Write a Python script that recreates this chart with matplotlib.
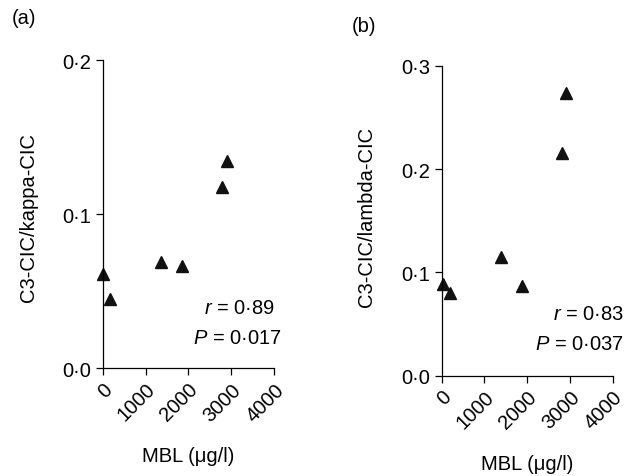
import matplotlib
matplotlib.use("Agg")
import matplotlib.pyplot as plt

plt.rcParams['font.family'] = ['Liberation Sans', 'DejaVu Sans']
plt.rcParams['mathtext.fontset'] = 'custom'
plt.rcParams['mathtext.it'] = 'Liberation Sans:italic'
plt.rcParams['mathtext.rm'] = 'Liberation Sans'

# Panel (a)
mbl_a = [15, 170, 1360, 1845, 2795, 2900]
ratio_kappa = [0.061, 0.045, 0.069, 0.0665, 0.1175, 0.1345]
# Panel (b)
mbl_b = [20, 195, 1385, 1885, 2820, 2905]
ratio_lambda = [0.0885, 0.0805, 0.1145, 0.087, 0.216, 0.274]

xticks = [0, 1000, 2000, 3000, 4000]
xtick_labels = ['0', '1000', '2000', '3000', '4000']
yticks_a = [0.0, 0.1, 0.2]
yticks_b = [0.0, 0.1, 0.2, 0.3]

FS = 14.5

def fmt(v):
    return f"{v:.1f}".replace('.', '\u00b7')

W, H = 635, 477
fig = plt.figure(figsize=(W / 100, H / 100), dpi=100)

def px_ax(l, r, b, t):
    return fig.add_axes([l / W, 1 - b / H, (r - l) / W, (b - t) / H])

def style(ax, yticks, ymax):
    ax.set_xlim(0, 4000)
    ax.set_ylim(0, ymax)
    for s in ['top', 'right']:
        ax.spines[s].set_visible(False)
    for s in ['left', 'bottom']:
        ax.spines[s].set_linewidth(0.9)
    ax.set_xticks(xticks)
    ax.set_xticklabels(xtick_labels, rotation=45, ha='right', va='top',
                       rotation_mode='anchor', fontsize=FS)
    ax.set_yticks(yticks)
    ax.set_yticklabels([fmt(v) for v in yticks], fontsize=FS)
    ax.tick_params(direction='out', length=5, width=0.9, pad=3)
    ax.patch.set_visible(False)

ax1 = px_ax(102.7, 274, 369.3, 61)
ax1.plot(mbl_a, ratio_kappa, linestyle='none', marker='^', markersize=8,
         color='#111111', clip_on=False)
style(ax1, yticks_a, 0.2)

ax2 = px_ax(441.7, 612.7, 376.7, 66.7)
ax2.plot(mbl_b, ratio_lambda, linestyle='none', marker='^', markersize=8,
         color='#111111', clip_on=False)
style(ax2, yticks_b, 0.3)

def ftext(x, y, s, **kw):
    fig.text(x / W, 1 - y / H, s, **kw)

ftext(12, 19, '(a)', fontsize=FS, va='center', ha='left')
ftext(352, 27, '(b)', fontsize=FS, va='center', ha='left')

ftext(275, 308, r'$\it{r}$ = 0·89', fontsize=FS, ha='right', va='center')
ftext(282, 338, r'$\it{P}$ = 0·017', fontsize=FS, ha='right', va='center')
ftext(624, 315, r'$\it{r}$ = 0·83', fontsize=FS, ha='right', va='center')
ftext(624, 345, r'$\it{P}$ = 0·037', fontsize=FS, ha='right', va='center')

ftext(188, 457, 'MBL (\u03bcg/l)', fontsize=FS, ha='center', va='center')
ftext(527, 465, 'MBL (\u03bcg/l)', fontsize=FS, ha='center', va='center')

ftext(29, 217, 'C3-CIC/kappa-CIC', fontsize=FS, ha='center', va='center', rotation=90)
ftext(367, 217, 'C3-CIC/lambda-CIC', fontsize=FS, ha='center', va='center', rotation=90)

fig.savefig('out.png', dpi=100)
